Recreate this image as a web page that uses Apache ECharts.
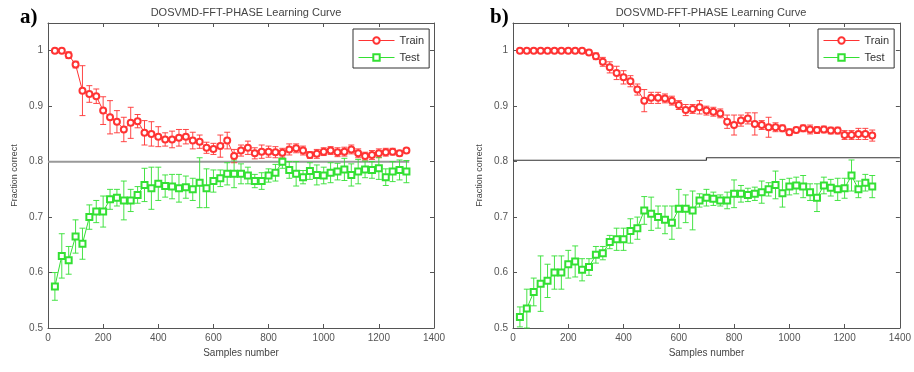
<!DOCTYPE html>
<html>
<head>
<meta charset="utf-8">
<script src="https://cdn.jsdelivr.net/npm/echarts@6/dist/echarts.min.js"></script>
<style>
  html, body { margin: 0; padding: 0; background: #fff; }
  #chart { width: 914px; height: 372px; }
</style>
</head>
<body>
<div id="chart"></div>
<script>
// training set sizes (x)
const sampleSizes = [25, 50, 75, 100, 125, 150, 175, 200, 225, 250, 275, 300, 325, 350, 375, 400,
  425, 450, 475, 500, 525, 550, 575, 600, 625, 650, 675, 700, 725, 750, 775, 800, 825, 850, 875,
  900, 925, 950, 975, 1000, 1025, 1050, 1075, 1100, 1125, 1150, 1175, 1200, 1225, 1250, 1275, 1300]

// panel a)
const trainA = [1.000, 1.000, 0.992, 0.975, 0.928, 0.922, 0.918, 0.892, 0.880, 0.872, 0.858, 0.870,
  0.873, 0.852, 0.850, 0.845, 0.840, 0.840, 0.843, 0.845, 0.838, 0.836, 0.825, 0.823, 0.828, 0.838,
  0.810, 0.820, 0.825, 0.815, 0.818, 0.818, 0.817, 0.816, 0.822, 0.824, 0.820, 0.812, 0.814, 0.818,
  0.820, 0.817, 0.818, 0.822, 0.815, 0.810, 0.812, 0.815, 0.817, 0.818, 0.815, 0.820]
const trainAErr = [0.002, 0.002, 0.006, 0.006, 0.045, 0.015, 0.013, 0.025, 0.030, 0.020, 0.022, 0.028,
  0.012, 0.022, 0.022, 0.018, 0.012, 0.015, 0.015, 0.013, 0.015, 0.012, 0.010, 0.010, 0.020, 0.015,
  0.012, 0.010, 0.012, 0.010, 0.012, 0.010, 0.010, 0.008, 0.010, 0.008, 0.008, 0.006, 0.008, 0.007,
  0.007, 0.008, 0.008, 0.008, 0.008, 0.007, 0.008, 0.008, 0.007, 0.006, 0.005, 0.004]
const testA = [0.575, 0.630, 0.622, 0.665, 0.652, 0.700, 0.710, 0.710, 0.732, 0.735, 0.730, 0.730,
  0.740, 0.758, 0.752, 0.760, 0.756, 0.755, 0.752, 0.754, 0.750, 0.762, 0.752, 0.765, 0.770, 0.778,
  0.778, 0.778, 0.775, 0.765, 0.765, 0.775, 0.780, 0.800, 0.785, 0.778, 0.772, 0.783, 0.776, 0.775,
  0.780, 0.782, 0.786, 0.776, 0.782, 0.786, 0.785, 0.788, 0.772, 0.782, 0.785, 0.782]
const testAErr = [0.025, 0.040, 0.025, 0.030, 0.028, 0.022, 0.020, 0.028, 0.018, 0.015, 0.035, 0.020,
  0.015, 0.030, 0.038, 0.030, 0.020, 0.022, 0.025, 0.020, 0.020, 0.045, 0.035, 0.020, 0.015, 0.020,
  0.025, 0.018, 0.015, 0.012, 0.015, 0.012, 0.015, 0.012, 0.015, 0.022, 0.012, 0.015, 0.018, 0.015,
  0.018, 0.015, 0.020, 0.020, 0.022, 0.015, 0.015, 0.020, 0.015, 0.018, 0.018, 0.020]
const refLineA = [[0, 0.8], [1310, 0.8]]

// panel b)
const trainB = [1, 1, 1, 1, 1, 1, 1, 1, 1, 1, 0.997, 0.990, 0.980, 0.970, 0.960, 0.952, 0.945, 0.930,
  0.910, 0.915, 0.915, 0.914, 0.910, 0.902, 0.893, 0.895, 0.898, 0.892, 0.890, 0.887, 0.872, 0.866,
  0.874, 0.878, 0.868, 0.866, 0.862, 0.862, 0.860, 0.853, 0.857, 0.860, 0.858, 0.857, 0.858, 0.856,
  0.856, 0.848, 0.848, 0.850, 0.850, 0.847]
const trainBErr = [0.001, 0.001, 0.001, 0.001, 0.001, 0.001, 0.001, 0.001, 0.001, 0.001, 0.004, 0.006,
  0.008, 0.010, 0.012, 0.012, 0.010, 0.010, 0.020, 0.010, 0.010, 0.008, 0.008, 0.008, 0.010, 0.008,
  0.012, 0.008, 0.008, 0.008, 0.012, 0.018, 0.010, 0.010, 0.020, 0.008, 0.018, 0.008, 0.006, 0.006,
  0.005, 0.006, 0.008, 0.006, 0.006, 0.006, 0.006, 0.008, 0.008, 0.010, 0.010, 0.010]
const testB = [0.520, 0.535, 0.565, 0.580, 0.585, 0.600, 0.600, 0.615, 0.620, 0.605, 0.610, 0.632,
  0.635, 0.655, 0.660, 0.660, 0.675, 0.680, 0.712, 0.706, 0.700, 0.695, 0.690, 0.715, 0.715, 0.712,
  0.730, 0.735, 0.733, 0.730, 0.730, 0.742, 0.742, 0.740, 0.742, 0.745, 0.750, 0.758, 0.743, 0.755,
  0.757, 0.755, 0.745, 0.735, 0.757, 0.753, 0.750, 0.752, 0.775, 0.750, 0.762, 0.755]
const testBErr = [0.018, 0.035, 0.025, 0.050, 0.030, 0.030, 0.030, 0.025, 0.028, 0.020, 0.015, 0.015,
  0.012, 0.012, 0.020, 0.020, 0.022, 0.020, 0.025, 0.030, 0.020, 0.025, 0.030, 0.035, 0.025, 0.035,
  0.012, 0.015, 0.012, 0.010, 0.015, 0.025, 0.015, 0.012, 0.012, 0.020, 0.012, 0.025, 0.025, 0.015,
  0.015, 0.020, 0.015, 0.025, 0.015, 0.015, 0.020, 0.018, 0.028, 0.015, 0.015, 0.020]
const refLineB = [[0, 0.8025], [700, 0.8025], [700, 0.807], [1400, 0.807]]

const TITLE = 'DOSVMD-FFT-PHASE Learning Curve'
const RED = '#ff3333'
const GREEN = '#33e033'
const AXIS = '#555'
const FONT = 'Liberation Sans'

const grids = [
  { left: 48, top: 23, width: 386, height: 305 },
  { left: 513, top: 23, width: 387, height: 305 },
]

function xAxisFor(gridIndex, top) {
  return {
    type: 'value', gridIndex, min: 0, max: 1400, interval: 200,
    position: top ? 'top' : 'bottom',
    name: top ? '' : 'Samples number', nameLocation: 'middle', nameGap: 20,
    nameTextStyle: { fontFamily: FONT, fontSize: 10, color: '#444' },
    axisLine: { onZero: false, lineStyle: { color: AXIS, width: 1 } },
    axisTick: { inside: true, length: 4, lineStyle: { color: AXIS } },
    axisLabel: { show: !top, margin: 5, fontFamily: FONT, fontSize: 10, color: '#555', formatter: (v) => String(v) },
    splitLine: { show: false },
  }
}

function yAxisFor(gridIndex, right) {
  return {
    type: 'value', gridIndex, min: 0.5, max: 1.05, interval: 0.1,
    position: right ? 'right' : 'left',
    name: right ? '' : 'Fraction correct', nameLocation: 'middle', nameGap: 29,
    nameTextStyle: { fontFamily: FONT, fontSize: 9, color: '#444' },
    axisLine: { onZero: false, lineStyle: { color: AXIS, width: 1 } },
    axisTick: { inside: true, length: 4, lineStyle: { color: AXIS } },
    axisLabel: { show: !right, showMaxLabel: false, margin: 5, fontFamily: FONT, fontSize: 10, color: '#555' },
    splitLine: { show: false },
  }
}

function errorBars(name, axisIndex, means, errs, color) {
  return {
    type: 'custom', name, xAxisIndex: axisIndex, yAxisIndex: axisIndex, z: 3,
    data: sampleSizes.map((x, i) => [x, means[i] - errs[i], means[i] + errs[i]]),
    renderItem(params, api) {
      const lo = api.coord([api.value(0), api.value(1)])
      const hi = api.coord([api.value(0), api.value(2)])
      const w = 3
      const style = { stroke: color, lineWidth: 1, opacity: 0.9 }
      return {
        type: 'group',
        children: [
          { type: 'line', shape: { x1: lo[0], y1: lo[1], x2: hi[0], y2: hi[1] }, style },
          { type: 'line', shape: { x1: lo[0] - w, y1: lo[1], x2: lo[0] + w, y2: lo[1] }, style },
          { type: 'line', shape: { x1: hi[0] - w, y1: hi[1], x2: hi[0] + w, y2: hi[1] }, style },
        ],
      }
    },
  }
}

function curve(name, axisIndex, values, color, symbol) {
  return {
    type: 'line', name, xAxisIndex: axisIndex, yAxisIndex: axisIndex, z: 4,
    data: sampleSizes.map((x, i) => [x, values[i]]),
    symbol, symbolSize: 6, showSymbol: true,
    lineStyle: { color, width: 1 },
    itemStyle: { color, borderColor: color, borderWidth: 1 },
    emphasis: { disabled: true },
    animation: false,
  }
}

function refLine(axisIndex, data, color, width) {
  return {
    type: 'line', name: 'ref', xAxisIndex: axisIndex, yAxisIndex: axisIndex, z: 2,
    data, symbol: 'none', lineStyle: { color, width }, animation: false,
  }
}

function legendFor(left) {
  return {
    left, top: 29, orient: 'vertical', data: ['Train', 'Test'],
    backgroundColor: '#fff', borderColor: '#333', borderWidth: 1, borderRadius: 0,
    padding: [6, 5, 5, 5], itemGap: 6, itemWidth: 36, itemHeight: 8,
    lineStyle: { width: 1 }, itemStyle: { borderWidth: 1 },
    textStyle: { fontFamily: FONT, fontSize: 11, color: '#333' },
    selectedMode: false,
  }
}

const chart = echarts.init(document.getElementById('chart'))
chart.setOption({
  backgroundColor: '#fff',
  animation: false,
  textStyle: { fontFamily: FONT },
  grid: grids.map((g) => ({ ...g, show: false })),
  title: [
    { text: TITLE, left: 241, top: 2, textAlign: 'center', textStyle: { fontFamily: FONT, fontSize: 11, fontWeight: 'normal', color: '#444' } },
    { text: TITLE, left: 706, top: 2, textAlign: 'center', textStyle: { fontFamily: FONT, fontSize: 11, fontWeight: 'normal', color: '#444' } },
    { text: 'a)', left: 15, top: 2, textStyle: { fontFamily: 'Liberation Serif', fontSize: 21, fontWeight: 'bold', color: '#000' } },
    { text: 'b)', left: 485, top: 2, textStyle: { fontFamily: 'Liberation Serif', fontSize: 21, fontWeight: 'bold', color: '#000' } },
  ],
  legend: [legendFor(353), legendFor(818)],
  xAxis: [xAxisFor(0, false), xAxisFor(0, true), xAxisFor(1, false), xAxisFor(1, true)],
  yAxis: [yAxisFor(0, false), yAxisFor(0, true), yAxisFor(1, false), yAxisFor(1, true)],
  series: [
    refLine(0, refLineA, '#999', 2),
    errorBars('Train err a', 0, trainA, trainAErr, RED),
    errorBars('Test err a', 0, testA, testAErr, GREEN),
    curve('Train', 0, trainA, RED, 'emptyCircle'),
    curve('Test', 0, testA, GREEN, 'emptyRect'),
    refLine(2, refLineB, '#333', 1.2),
    errorBars('Train err b', 2, trainB, trainBErr, RED),
    errorBars('Test err b', 2, testB, testBErr, GREEN),
    curve('Train', 2, trainB, RED, 'emptyCircle'),
    curve('Test', 2, testB, GREEN, 'emptyRect'),
  ],
})
</script>
</body>
</html>
